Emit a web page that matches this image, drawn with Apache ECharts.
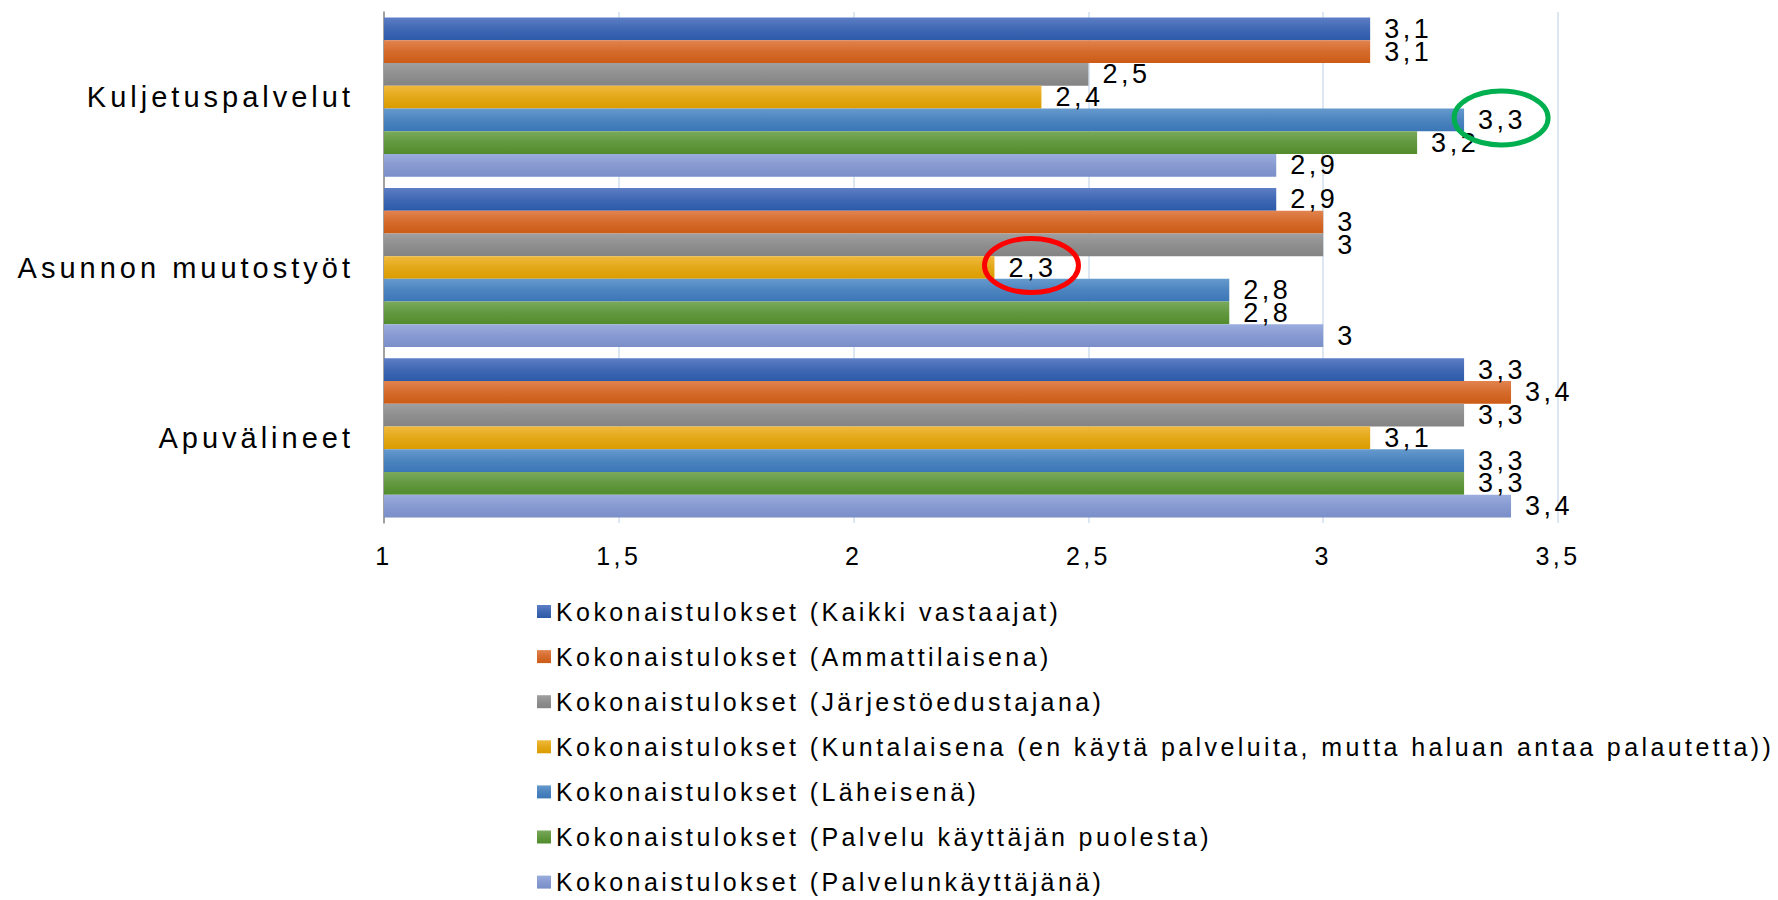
<!DOCTYPE html>
<html>
<head>
<meta charset="utf-8">
<script src="https://cdn.jsdelivr.net/npm/echarts@6/dist/echarts.min.js"></script>
<style>
    html, body { margin: 0; padding: 0; background: #fff; }
    #main { width: 1778px; height: 900px; }
    /* Office-style character spacing */
    #main text { letter-spacing: 3px; }
    #main text[style*="29px"] { letter-spacing: 4px; }
    #main text[style*="27px"] { letter-spacing: 3.5px; }
    #main text[style*="25px"] { letter-spacing: 3.4px; }
</style>
</head>
<body>
<div id="main"></div>
<script>
const categories = ['Kuljetuspalvelut', 'Asunnon muutostyöt', 'Apuvälineet'];
const seriesNames = [
    'Kokonaistulokset (Kaikki vastaajat)',
    'Kokonaistulokset (Ammattilaisena)',
    'Kokonaistulokset (Järjestöedustajana)',
    'Kokonaistulokset (Kuntalaisena (en käytä palveluita, mutta haluan antaa palautetta))',
    'Kokonaistulokset (Läheisenä)',
    'Kokonaistulokset (Palvelu käyttäjän puolesta)',
    'Kokonaistulokset (Palvelunkäyttäjänä)'
];
const kaikkiVastaajat = [3.1, 2.9, 3.3];
const ammattilaisena = [3.1, 3.0, 3.4];
const jarjestoedustajana = [2.5, 3.0, 3.3];
const kuntalaisena = [2.4, 2.3, 3.1];
const laheisena = [3.3, 2.8, 3.3];
const palveluKayttajanPuolesta = [3.2, 2.8, 3.3];
const palvelunkayttajana = [2.9, 3.0, 3.4];
const xTicks = [1, 1.5, 2, 2.5, 3, 3.5];

// circled labels: series index, category index, ring colour
const highlights = [
    { series: 4, category: 0, color: '#00b050' },
    { series: 3, category: 1, color: '#ff0000' }
];

const seriesValues = [kaikkiVastaajat, ammattilaisena, jarjestoedustajana, kuntalaisena,
    laheisena, palveluKayttajanPuolesta, palvelunkayttajana];

// top / bottom of each bar gradient
const barColors = [
    ['#5d7ec5', '#2c5aa8'],
    ['#e2834f', '#cc5b15'],
    ['#a0a0a0', '#838383'],
    ['#f0b93c', '#db9c00'],
    ['#659acd', '#3b76b6'],
    ['#7aa95c', '#528c2c'],
    ['#9badde', '#7a8ec8']
];

const FONT = '"Liberation Sans", Arial, sans-serif';
const LABEL_DISTANCE = 14;

const chart = echarts.init(document.getElementById('main'), null, { renderer: 'svg' });

const fmt = v => String(v).replace('.', ',');

let series = seriesNames.map((name, i) => {
    return {
        name: name,
        type: 'bar',
        data: seriesValues[i],
        barGap: 0,
        barCategoryGap: '6.6%',
        itemStyle: {
            color: new echarts.graphic.LinearGradient(0, 0, 0, 1, [
                { offset: 0, color: barColors[i][0] },
                { offset: 0.5, color: echarts.color.lerp(0.6, barColors[i]) },
                { offset: 1, color: barColors[i][1] }
            ])
        },
        label: {
            show: true,
            position: 'right',
            distance: LABEL_DISTANCE,
            color: '#000',
            fontFamily: FONT,
            fontSize: 27,
            formatter: p => fmt(p.value)
        },
        emphasis: { disabled: true }
    };
});

let option = {
    animation: false,
    backgroundColor: '#fff',
    grid: {
        left: 384,
        right: 220,
        top: 12,
        bottom: 377,
        containLabel: false
    },
    xAxis: {
        type: 'value',
        min: xTicks[0],
        max: xTicks[xTicks.length - 1],
        interval: xTicks[1] - xTicks[0],
        axisLine: { show: false },
        axisTick: { show: false },
        axisLabel: {
            margin: 20,
            color: '#000',
            fontFamily: FONT,
            fontSize: 25,
            formatter: v => fmt(v)
        },
        splitLine: {
            show: true,
            lineStyle: { color: '#dde7f3', width: 2 }
        }
    },
    yAxis: {
        type: 'category',
        inverse: true,
        data: categories,
        axisLine: { show: true, lineStyle: { color: '#8a8a8a', width: 1.5 } },
        axisTick: { show: false },
        axisLabel: {
            margin: 30,
            color: '#000',
            fontFamily: FONT,
            fontSize: 29
        },
        splitLine: { show: false }
    },
    legend: {
        orient: 'vertical',
        left: 537,
        top: 599,
        padding: 0,
        itemWidth: 14,
        itemHeight: 13,
        itemGap: 20.1,
        icon: 'rect',
        selectedMode: false,
        textStyle: {
            color: '#000',
            fontFamily: FONT,
            fontSize: 25
        },
        data: seriesNames
    },
    series: series
};

chart.setOption(option);

// ellipses round the highlighted labels, placed from the laid-out bars
const rings = highlights.map(h => {
    const layout = chart.getModel().getSeriesByIndex(h.series).getData().getItemLayout(h.category);
    const endX = layout.x + layout.width;
    const midY = layout.y + layout.height / 2;
    return {
        type: 'ellipse',
        z: 100,
        shape: { cx: endX + LABEL_DISTANCE + 23, cy: midY - 2, rx: 47, ry: 27 },
        style: { fill: 'none', stroke: h.color, lineWidth: 5 }
    };
});

chart.setOption({ graphic: rings });
</script>
</body>
</html>
